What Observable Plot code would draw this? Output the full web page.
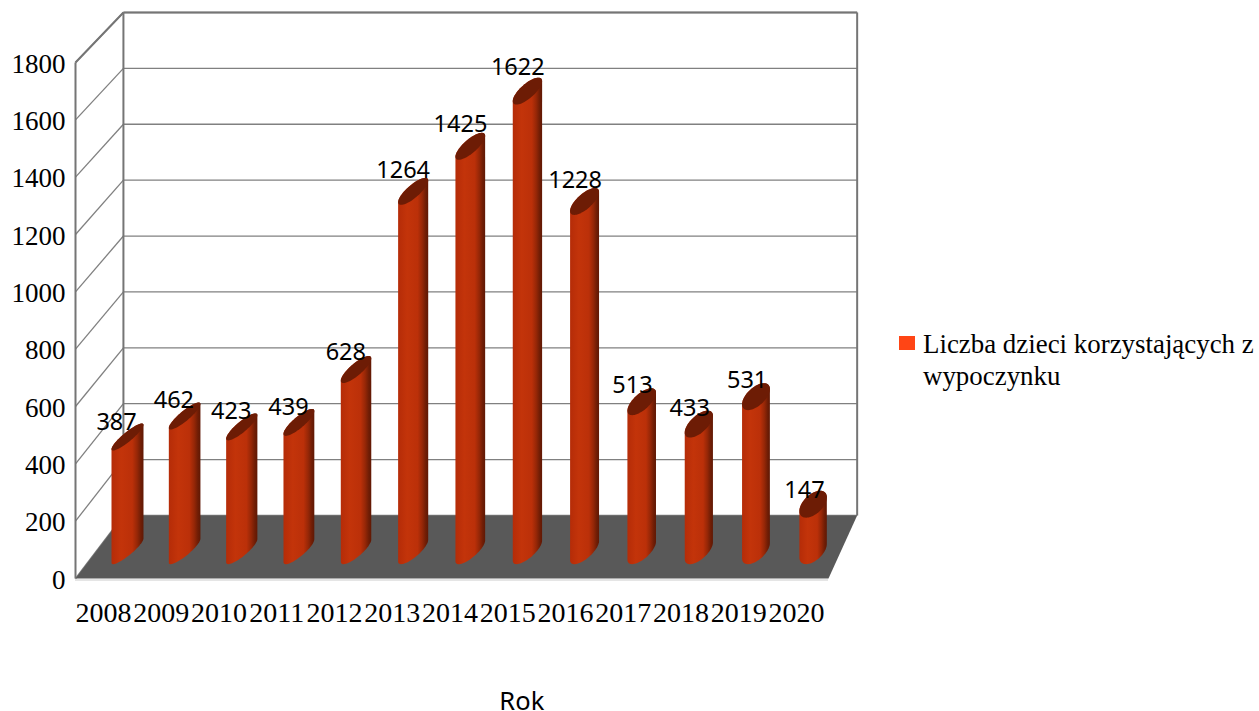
<!DOCTYPE html>
<html><head><meta charset="utf-8">
<script src="https://cdn.jsdelivr.net/npm/d3@7"></script>
<script src="https://cdn.jsdelivr.net/npm/@observablehq/plot@0.6"></script>
<style>
html,body{margin:0;padding:0;background:#fff;width:1259px;height:711px;overflow:hidden}
#wrap{position:relative;width:1259px;height:711px}
#legend{position:absolute;left:899px;top:328px;width:360px;font:26.9px/32px "Liberation Serif",serif;color:#000;white-space:nowrap}
#legend i{position:absolute;left:0;top:8px;width:16px;height:14px;background:#ff4515}
#legend div{margin-left:24px}
</style></head><body>
<div id="wrap"><div id="legend"><i></i><div>Liczba dzieci korzystających z<br>wypoczynku</div></div></div>
<script>
const years = [2008,2009,2010,2011,2012,2013,2014,2015,2016,2017,2018,2019,2020];
const children = [387,462,423,439,628,1264,1425,1622,1228,513,433,531,147];
const yTicks = [0,200,400,600,800,1000,1200,1400,1600,1800];
const xTitle = "Rok";

// 3D box in scale units
const x0 = 2007.084, x1 = 2020.22, yMax = 1974.4;
const backLeft = 2007.92, backRight = 2020.72, floorBack = 220, wallTop = yMax;
const backY = v => floorBack + v * (wallTop - floorBack) / 1800;
// cylinders stand on a plane between the front and the back wall
const barPlane = v => 115.5 + 0.977 * v;
const cy = 47, baseY = 97;
const ang = d3.range(0, 361, 6).map(d => d * Math.PI / 180);

const bodies = [], tops = [];
years.forEach((yr, i) => {
  const hw = 0.279 - i * 0.0033;        // half the visible width, in years
  const ax = 0.122 + i * 0.007;
  const bx = Math.sqrt(hw * hw - ax * ax);
  const tilt = Math.atan2(bx, ax);
  const c = yr + hw - 0.288;            // left edges stay evenly spaced
  const ex = t => c + ax * Math.cos(t) + bx * Math.sin(t);
  const top = barPlane(children[i]);
  for (const t of ang) tops.push({yr, x: ex(t), y: top + cy * Math.sin(t)});
  const lower = ang.map(t => t + tilt).filter(t => t <= tilt + Math.PI);
  for (const t of lower) bodies.push({yr, x: ex(t), y: top + cy * Math.sin(t)});
  for (const t of lower) bodies.push({yr, x: ex(t + Math.PI), y: baseY + cy * Math.sin(t + Math.PI)});
});

const segs = [];
const seg = (a, b, c, d, w) => segs.push({x1: a, y1: b, x2: c, y2: d, w});
yTicks.forEach(v => {
  seg(backLeft, backY(v), backRight, backY(v), 1.3);
  seg(x0, v, backLeft, backY(v), 1.3);
});
seg(backLeft, wallTop, backRight, wallTop, 1.5);
seg(x0, 1800, backLeft, wallTop, 2);
seg(x0, 0, x0, 1800, 2.4);
seg(backLeft, floorBack, backLeft, wallTop, 2.2);
seg(backRight, floorBack, backRight, wallTop, 1.5);

const floor = [[x0,0],[x1,0],[backRight,floorBack],[backLeft,floorBack],[x0,0]].map(([x,y]) => ({x,y}));
const labelX = yr => 2007.572 + (yr - 2008) * 1.0073;

const chart = Plot.plot({
  width: 1259, height: 711,
  marginLeft: 75, marginRight: 431, marginTop: 12, marginBottom: 133,
  x: {domain: [x0, x1], axis: null},
  y: {domain: [0, yMax], axis: null},
  style: {background: "#fff", fontFamily: "Liberation Serif"},
  marks: [
    Plot.link(segs.filter(d => d.w <= 1.3), {x1: "x1", y1: "y1", x2: "x2", y2: "y2", stroke: "#808080", strokeWidth: 1.3}),
    Plot.link(segs.filter(d => d.w > 1.3), {x1: "x1", y1: "y1", x2: "x2", y2: "y2", stroke: "#757575", strokeWidth: 2}),
    Plot.line(floor, {x: "x", y: "y", fill: "#595959", stroke: "none"}),
    Plot.ruleY([0], {x1: x0, x2: x1, dy: 1.5, stroke: "#dcdcdc", strokeWidth: 1.5}),
    Plot.axisY({ticks: yTicks, tickSize: 0, tickPadding: 10, dy: 1.5, label: null, fontSize: 27, fill: "#000", tickFormat: d => String(d)}),
    Plot.line(bodies, {x: "x", y: "y", z: "yr", fill: "url(#cyl)", stroke: "none"}),
    Plot.line(tops, {x: "x", y: "y", z: "yr", fill: "#6d1c05", stroke: "none"}),
    Plot.text(years, {x: labelX, y: 0, dy: 35, text: d => String(d), fontSize: 28, fontFamily: "Liberation Serif", fill: "#000"}),
    Plot.text(children, {x: (d, i) => years[i] - 0.2, y: d => d + 159, text: d => String(d), fontSize: 23.5, fontFamily: "Noto Sans", fill: "#000"}),
    Plot.text([xTitle], {x: [2014.87], y: [0], dy: 123, text: d => d, fontSize: 25.5, fontFamily: "Noto Sans", fill: "#000"})
  ]
});
const defs = d3.create("svg:defs");
const g = defs.append("linearGradient").attr("id", "cyl").attr("x1", 0).attr("x2", 1).attr("y1", 0).attr("y2", 0);
[[0,"#b52c08"],[0.3,"#c3340a"],[0.65,"#bb3009"],[0.8,"#962707"],[0.92,"#6f1d05"],[1,"#601804"]].forEach(([o,c]) =>
  g.append("stop").attr("offset", o).attr("stop-color", c));
chart.insertBefore(defs.node(), chart.firstChild);
document.getElementById("wrap").prepend(chart);
</script>
</body></html>
